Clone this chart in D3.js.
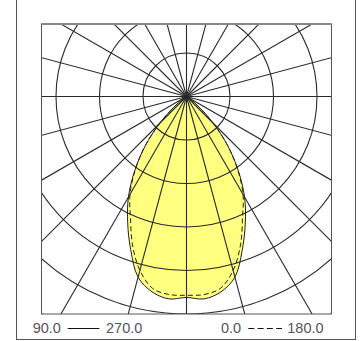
<!DOCTYPE html>
<html>
<head>
<meta charset="utf-8">
<script src="https://cdn.jsdelivr.net/npm/d3@7"></script>
<style>
  html, body { margin: 0; padding: 0; background: #fff; }
  svg { display: block; }
</style>
</head>
<body>
<div id="chart"></div>
<script>
// ---- data ----
const gammaDeg = [0, 5, 10, 15, 20, 25, 30, 35, 40, 45, 50, 55, 60];
const plane90_270 = [462, 467, 456, 430, 375, 320, 267, 207, 147, 87, 37, 9, 0];
const plane0_180  = [457, 457, 448, 414, 363, 305, 260, 205, 147, 87, 37, 9, 0];
const ringValues = [100, 200, 300, 400, 500, 600];
const rayAngles = d3.range(0, 360, 15);
const legendSolid = ["90.0", "270.0"];
const legendDashed = ["0.0", "180.0"];

// ---- layout ----
const W = 363, H = 341;
const sq = {x0: 41.5, x1: 331.5, y0: 24, y1: 314};
const cx = 186.5, cy = 96.5;

const svg = d3.select("#chart").append("svg").attr("width", W).attr("height", H);

const r = d3.scaleLinear().domain([0, 500]).range([0, 217.5]);

// outer frame
svg.append("rect").attr("x", 16.5).attr("y", -5).attr("width", 339).attr("height", 344.5)
  .attr("fill", "none").attr("stroke", "#555").attr("stroke-width", 1);

svg.append("clipPath").attr("id", "sqclip").append("rect")
  .attr("x", sq.x0).attr("y", sq.y0).attr("width", sq.x1 - sq.x0).attr("height", sq.y1 - sq.y0);

const g = svg.append("g").attr("clip-path", "url(#sqclip)");
const polar = g.append("g").attr("transform", `translate(${cx},${cy})`);

// build curve points (left half = C90, right half = C270)
function shapePoints(vals) {
  const pts = [];
  for (let i = gammaDeg.length - 1; i >= 0; i--) pts.push([Math.PI + gammaDeg[i] * Math.PI / 180, r(vals[i])]);
  for (let i = 1; i < gammaDeg.length - 1; i++) pts.push([Math.PI - gammaDeg[i] * Math.PI / 180, r(vals[i])]);
  return pts;
}
const line = d3.lineRadial().curve(d3.curveCatmullRomClosed.alpha(0.5));

const solidPts = shapePoints(plane90_270);
const dashedPts = shapePoints(plane0_180);

polar.append("path").attr("d", line(solidPts)).attr("fill", "#ffff80").attr("stroke", "none");

// grid circles
polar.selectAll("circle.ring").data(ringValues).join("circle")
  .attr("class", "ring").attr("r", d => r(d))
  .attr("fill", "none").attr("stroke", "#2a2a2a").attr("stroke-width", 1.1);

// rays
polar.selectAll("line.ray").data(rayAngles).join("line")
  .attr("class", "ray")
  .attr("x1", 0).attr("y1", 0)
  .attr("x2", d => 400 * Math.sin(d * Math.PI / 180))
  .attr("y2", d => -400 * Math.cos(d * Math.PI / 180))
  .attr("stroke", "#2a2a2a").attr("stroke-width", 1.1);

// curves
polar.append("path").attr("d", line(dashedPts)).attr("fill", "none")
  .attr("stroke", "#222").attr("stroke-width", 1).attr("stroke-dasharray", "5,3");
polar.append("path").attr("d", line(solidPts)).attr("fill", "none")
  .attr("stroke", "#222").attr("stroke-width", 1);

// square border
svg.append("rect").attr("x", sq.x0).attr("y", sq.y0).attr("width", sq.x1 - sq.x0).attr("height", sq.y1 - sq.y0)
  .attr("fill", "none").attr("stroke", "#555").attr("stroke-width", 1);
svg.append("line").attr("x1", sq.x0).attr("x2", sq.x1).attr("y1", sq.y0).attr("y2", sq.y0)
  .attr("stroke", "#888").attr("stroke-width", 2);

// legend
const ly = 333.3;
const lg = svg.append("g").attr("font-family", "'Liberation Sans', Arial, sans-serif")
  .attr("font-size", 14.5).attr("fill", "#555");
lg.append("text").attr("x", 32.7).attr("y", ly).text(legendSolid[0]);
lg.append("text").attr("x", 106).attr("y", ly).text(legendSolid[1]);
lg.append("text").attr("x", 221).attr("y", ly).text(legendDashed[0]);
lg.append("text").attr("x", 287.3).attr("y", ly).text(legendDashed[1]);
svg.append("line").attr("x1", 67.7).attr("x2", 99.3).attr("y1", 328.5).attr("y2", 328.5)
  .attr("stroke", "#111").attr("stroke-width", 1.2);
svg.append("line").attr("x1", 248.3).attr("x2", 282).attr("y1", 328.5).attr("y2", 328.5)
  .attr("stroke", "#111").attr("stroke-width", 1.2).attr("stroke-dasharray", "6,3.3");
</script>
</body>
</html>
